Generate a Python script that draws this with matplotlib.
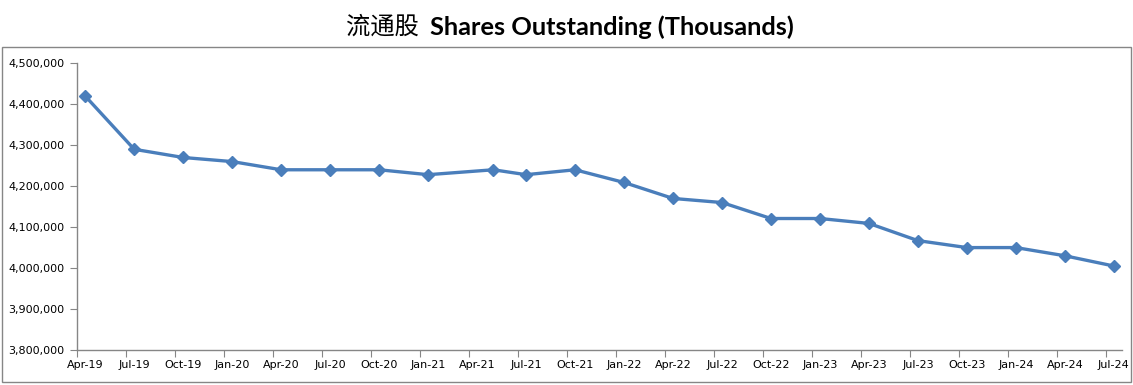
import pandas as pd
import matplotlib.pyplot as plt
from matplotlib.patches import Rectangle
from matplotlib.ticker import FuncFormatter, FixedLocator

# reporting dates (month) and shares outstanding, thousands
dates = ["2019-04", "2019-07", "2019-10", "2020-01", "2020-04", "2020-07",
         "2020-10", "2021-01", "2021-05", "2021-07", "2021-10", "2022-01",
         "2022-04", "2022-07", "2022-10", "2023-01", "2023-04", "2023-07",
         "2023-10", "2024-01", "2024-04", "2024-07"]
shares = [4420000, 4290000, 4270000, 4260000, 4240000, 4240000,
          4240000, 4228000, 4240000, 4228000, 4240000, 4209000,
          4170000, 4160000, 4121000, 4121000, 4109000, 4067000,
          4050000, 4050000, 4030000, 4005000]

tick_labels = ["Apr-19", "Jul-19", "Oct-19", "Jan-20", "Apr-20", "Jul-20",
               "Oct-20", "Jan-21", "Apr-21", "Jul-21", "Oct-21", "Jan-22",
               "Apr-22", "Jul-22", "Oct-22", "Jan-23", "Apr-23", "Jul-23",
               "Oct-23", "Jan-24", "Apr-24", "Jul-24"]

# month slots like an Excel date axis (base unit = months)
start = pd.Period("2019-04", freq="M")
x = [(pd.Period(d, freq="M") - start).n + 0.5 for d in dates]
n_months = (pd.Period("2024-07", freq="M") - start).n + 1

fig = plt.figure(figsize=(11.33, 3.85), dpi=100)
ax = fig.add_axes([0.068, 0.091, 0.9223, 0.7446])

ax.plot(x, shares, color="#4A7EBB", lw=2.4, marker="D", ms=6.5,
        markeredgecolor="#4A7EBB", zorder=3)

ax.set_xlim(0, n_months)
ax.set_ylim(3800000, 4500000)

grey = "#868686"
for s in ["top", "right"]:
    ax.spines[s].set_visible(False)
for s in ["left", "bottom"]:
    ax.spines[s].set_color(grey)
    ax.spines[s].set_linewidth(1.0)

major = list(range(0, n_months, 3))
ax.xaxis.set_major_locator(FixedLocator(major))
ax.xaxis.set_minor_locator(FixedLocator([m + 0.5 for m in major]))
ax.set_xticklabels([], minor=False)
ax.set_xticklabels(tick_labels, minor=True)
ax.tick_params(axis="x", which="major", length=5, color=grey, direction="out")
ax.tick_params(axis="x", which="minor", length=0, pad=7, labelsize=8)

ax.set_yticks(range(3800000, 4500001, 100000))
ax.yaxis.set_major_formatter(FuncFormatter(lambda v, p: f"{v:,.0f}"))
ax.tick_params(axis="y", length=5, color=grey, labelsize=8, pad=4)

# chart area border
fig.patches.append(Rectangle((2 / 1133, 3 / 385), 1129 / 1133, 335 / 385,
                             transform=fig.transFigure, fill=False,
                             edgecolor=grey, lw=1.0))

# title: Chinese part plain, English part bold
fig.text(346 / 1133, 0.93, "流通股", ha="left", va="center",
         fontsize=17.5, family=["Noto Sans CJK SC"])
fig.text(430 / 1133, 0.93, "Shares Outstanding (Thousands)",
         ha="left", va="center", fontsize=18.3, fontweight="bold",
         family=["Lato", "DejaVu Sans"])

fig.savefig("out.png", dpi=100)
